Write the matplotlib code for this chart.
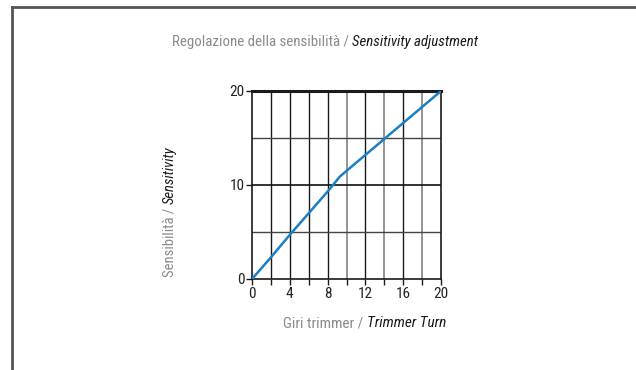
import matplotlib
matplotlib.use('Agg')
import matplotlib.pyplot as plt
from matplotlib.lines import Line2D
from matplotlib import font_manager
from matplotlib.font_manager import FontProperties

# trimmer turns vs sensitivity
turns = [0, 2, 4, 6, 8, 9.3, 10, 12, 14, 16, 18, 20]
sensitivity = [0, 2.3, 4.7, 7.0, 9.3, 10.9, 11.5, 13.2, 14.9, 16.6, 18.3, 20]

x_major = [0, 4, 8, 12, 16, 20]
x_minor = [2, 6, 10, 14, 18]
y_major = [0, 10, 20]
dark_vlines = [2, 4, 6, 8, 12, 16]
light_vlines = [10, 14, 18]
hlines = [5, 15]


def narrow_font(style):
    """Look for a condensed sans face; None if nothing suitable is installed."""
    prefs = ['Roboto Condensed', 'Liberation Sans Narrow', 'Noto Sans', 'Open Sans',
             'DejaVu Sans', 'Lato', 'Inter', 'Roboto']
    found = []
    for f in font_manager.fontManager.ttflist:
        narrow = ('Condensed' in f.name or 'Narrow' in f.name
                  or str(f.stretch) in ('condensed', 'semi-condensed', 'extra-condensed'))
        if not narrow or 'Mono' in f.name or 'Serif' in f.name:
            continue
        try:
            w = int(f.weight)
        except ValueError:
            w = 400 if f.weight in ('normal', 'regular', 'book') else 700
        if w not in (400, 500) or f.style != style:
            continue
        if str(f.stretch) == 'extra-condensed':
            continue
        rank = next((i for i, p in enumerate(prefs) if f.name.startswith(p)), len(prefs))
        found.append((rank, w, f.fname))
    if not found:
        return None
    found.sort()
    return FontProperties(fname=found[0][2])


reg = narrow_font('normal')
ita = narrow_font('italic')
if reg is None:
    reg = FontProperties(family='DejaVu Sans')
if ita is None:
    ita = FontProperties(family=reg.get_family(), style='italic') if reg.get_file() is None \
        else FontProperties(fname=reg.get_file(), style='italic')

GREY = '#8a8a8a'
INK = '#1a1a1a'

fig = plt.figure(figsize=(6.36, 3.70), dpi=100)
ax = fig.add_axes([252 / 636, 1 - 279 / 370, 189 / 636, 188 / 370])

for x in dark_vlines:
    ax.axvline(x, color='#1a1a1a', lw=1.0, zorder=1)
for x in light_vlines:
    ax.axvline(x, color='#8c8c8c', lw=1.3, zorder=1)
for y in hlines:
    ax.axhline(y, color='#444444', lw=1.0, zorder=1)
ax.axhline(10, color='#111111', lw=1.2, zorder=1)

ax.plot(turns, sensitivity, color='#1a80c4', lw=1.8, zorder=3)

ax.set_xlim(0, 20)
ax.set_ylim(0, 20)
ax.set_xticks(x_major)
ax.set_xticks(x_minor, minor=True)
ax.set_yticks(y_major)
ax.tick_params(which='both', direction='out', length=4, width=1, color=INK,
               labelcolor='#222222', pad=1.5)
for lab in ax.get_xticklabels() + ax.get_yticklabels():
    lab.set_fontproperties(reg)
    lab.set_fontsize(11)
for side in ['left', 'bottom', 'right']:
    ax.spines[side].set_linewidth(1.2)
    ax.spines[side].set_color(INK)
ax.spines['top'].set_linewidth(2.2)
ax.spines['top'].set_color(INK)

# page frame
fig.add_artist(Line2D([12 / 636, 12 / 636], [0, 1 - 6.5 / 370], color='#555555', lw=2))
fig.add_artist(Line2D([12 / 636, 1], [1 - 6.5 / 370, 1 - 6.5 / 370], color='#555555', lw=2))


def two_part(x, y, plain, italic, size, vertical=False):
    fig.canvas.draw()
    r = fig.canvas.get_renderer()
    if vertical:
        t1 = fig.text(x, y, plain, color=GREY, fontproperties=reg, fontsize=size,
                      rotation=90, ha='center', va='bottom')
        bb = t1.get_window_extent(r)
        fig.text(x, bb.y1 / fig.bbox.height, italic, color=INK, fontproperties=ita,
                 fontsize=size, rotation=90, ha='center', va='bottom')
    else:
        t1 = fig.text(x, y, plain, color=GREY, fontproperties=reg, fontsize=size,
                      ha='left', va='center')
        bb = t1.get_window_extent(r)
        fig.text(bb.x1 / fig.bbox.width, y, italic, color=INK, fontproperties=ita,
                 fontsize=size, ha='left', va='center')


two_part(172 / 636, 1 - 42 / 370, 'Regolazione della sensibilità / ',
         'Sensitivity adjustment', 10.7)
two_part(283 / 636, 1 - 323 / 370, 'Giri trimmer / ', 'Trimmer Turn', 11)
two_part(170 / 636, 1 - 277 / 370, 'Sensibilità / ', 'Sensitivity', 10.5, vertical=True)

fig.savefig('out.png', dpi=100)
